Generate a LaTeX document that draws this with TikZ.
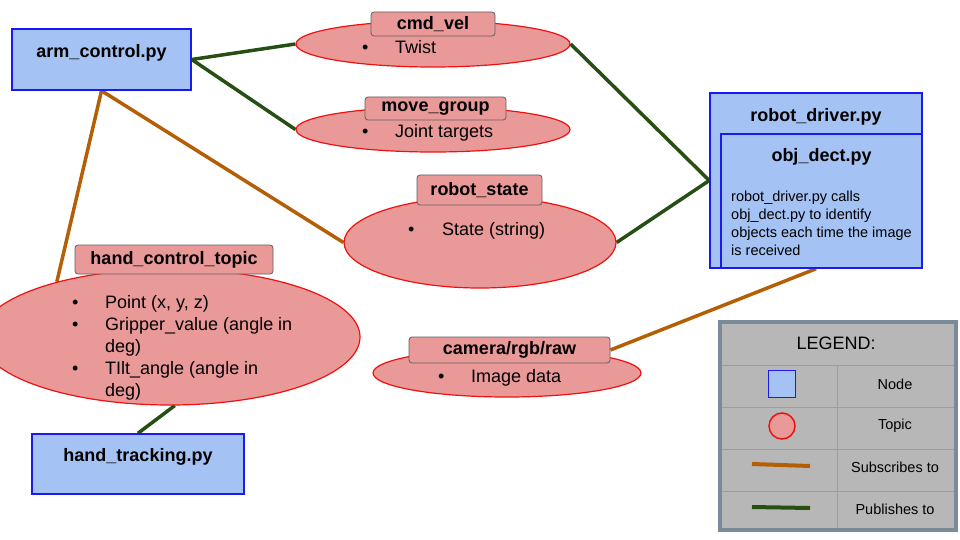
\documentclass[tikz,border=0pt]{standalone}
\usepackage{fontspec}
\setmainfont{Liberation Sans}
\usetikzlibrary{shapes.geometric,backgrounds}

\definecolor{nodeblue}{HTML}{A4C2F4}
\definecolor{nodeborder}{HTML}{1A1AF0}
\definecolor{topicfill}{HTML}{EA9999}
\definecolor{topicborder}{HTML}{F01010}
\definecolor{labelborder}{HTML}{5F5F5F}
\definecolor{suborange}{HTML}{B45F06}
\definecolor{pubgreen}{HTML}{274E13}
\definecolor{legendfill}{HTML}{B7B7B7}
\definecolor{legendframe}{HTML}{7B8A99}
\definecolor{legendgrid}{HTML}{9C9C9C}

\tikzset{
  rosnode/.style={rectangle,draw=nodeborder,fill=nodeblue,line width=1.5pt,inner sep=0pt,font=\fontsize{18}{22}\selectfont\bfseries},
  topic/.style={ellipse,draw=topicborder,fill=topicfill,line width=1.2pt,inner sep=0pt},
  topiclabel/.style={rectangle,draw=labelborder,fill=topicfill,rounded corners=3pt,line width=0.8pt,inner sep=0pt,font=\fontsize{18}{22}\selectfont\bfseries},
  bodytext/.style={inner sep=0pt,anchor=base west,font=\fontsize{18}{22}\selectfont},
  subline/.style={draw=suborange,line width=3.5pt},
  publine/.style={draw=pubgreen,line width=3.5pt}
}

\begin{document}
\begin{tikzpicture}[x=1pt,y=-1pt]
\useasboundingbox (0,0) rectangle (960,540);

% nodes
\node[rosnode,minimum width=179pt,text height=29pt,text depth=32pt] (arm) at (101.5,59.5) {arm\_control.py};
\node[rosnode,minimum width=212pt,text height=29pt,text depth=146pt] (driver) at (816,180.5) {robot\_driver.py};
\node[rosnode,minimum width=201pt,text height=27pt,text depth=107pt] (objdect) at (821.5,201) {obj\_dect.py};
\node[inner sep=0pt,anchor=base west,font=\fontsize{14.5}{18}\selectfont] (drivertxt) at (731,201)
  {\begin{tabular}[t]{@{}l@{}}robot\_driver.py calls\\obj\_dect.py to identify\\objects each time the image\\is received\end{tabular}};
\node[rosnode,minimum width=212pt,text height=27pt,text depth=33pt] (handtrack) at (138,464) {hand\_tracking.py};

% topics
\node[topic,minimum width=274pt,minimum height=46pt] (cmdvel) at (433,44) {};
\node[topiclabel,minimum width=124pt,minimum height=24pt] (cmdvellbl) at (433,24) {cmd\_vel};
\node[bodytext] (cmdveltxt) at (362,54) {\begin{tabular}[t]{@{}p{33pt}@{}l@{}}\textbullet & Twist\end{tabular}};

\node[topic,minimum width=274pt,minimum height=45pt] (movegroup) at (433,129.5) {};
\node[topiclabel,minimum width=141pt,minimum height=23pt] (movegrouplbl) at (435.5,108.5) {move\_group};
\node[bodytext] (movegrouptxt) at (362,138) {\begin{tabular}[t]{@{}p{33pt}@{}l@{}}\textbullet & Joint targets\end{tabular}};

\node[topic,minimum width=272pt,minimum height=91pt] (robotstate) at (480,242.5) {};
\node[topiclabel,minimum width=125pt,minimum height=30pt] (robotstatelbl) at (479.5,190) {robot\_state};
\node[bodytext] (robotstatetxt) at (408,235) {\begin{tabular}[t]{@{}p{34pt}@{}l@{}}\textbullet & State (string)\end{tabular}};

\node[topic,minimum width=380pt,minimum height=136pt] (handtopic) at (170,337) {};
\node[topiclabel,minimum width=198pt,minimum height=29pt] (handtopiclbl) at (174,259.5) {hand\_control\_topic};
\node[bodytext] (handtopictxt) at (72,308) {\begin{tabular}[t]{@{}p{33pt}@{}l@{}}
  \textbullet & Point (x, y, z)\\
  \textbullet & Gripper\_value (angle in\\
   & deg)\\
  \textbullet & TIlt\_angle (angle in\\
   & deg)\end{tabular}};

\node[topic,minimum width=268pt,minimum height=48pt] (camera) at (507,373) {};
\node[topiclabel,minimum width=201pt,minimum height=26pt] (cameralbl) at (509.5,350) {camera/rgb/raw};
\node[bodytext] (cameratxt) at (438,382) {\begin{tabular}[t]{@{}p{33pt}@{}l@{}}\textbullet & Image data\end{tabular}};

% connectors
\begin{pgfonlayer}{background}
\draw[publine] (arm.east) -- (cmdvel.west);
\draw[publine] (arm.east) -- (movegroup.west);
\draw[subline] (arm.south) -- (robotstate.west);
\draw[subline] (arm.south) -- (handtopic.154);
\draw[publine] (handtopic.-86) -- (handtrack.north);
\draw[publine] (cmdvel.east) -- (driver.west);
\draw[publine] (robotstate.east) -- (driver.west);
\draw[subline] (cameralbl.east) -- (driver.south);
\end{pgfonlayer}

% legend
\draw[fill=legendfill,draw=legendframe,line width=3.5pt] (720,322) rectangle (956,530);
\foreach \y in {365,407,449,491}
  \draw[legendgrid,line width=0.8pt] (722,\y) -- (954,\y);
\draw[legendgrid,line width=0.8pt] (837,365) -- (837,528);
\node[font=\fontsize{18}{22}\selectfont] (legtitle) at (836,343) {LEGEND:};
\node[rectangle,draw=nodeborder,fill=nodeblue,line width=1.5pt,minimum size=27pt,inner sep=0pt] (legnode) at (782,384) {};
\node[circle,draw=topicborder,fill=topicfill,line width=1.5pt,minimum size=26pt,inner sep=0pt] (legtopic) at (782,426) {};
\coordinate (legsubA) at (752,464);
\coordinate (legsubB) at (810,466);
\coordinate (legpubA) at (752,507);
\coordinate (legpubB) at (810,508);
\draw[subline,line width=4pt] (legsubA) -- (legsubB);
\draw[publine,line width=4pt] (legpubA) -- (legpubB);
\node[font=\fontsize{14.5}{18}\selectfont] (legnodetxt) at (895,384) {Node};
\node[font=\fontsize{14.5}{18}\selectfont] (legtopictxt) at (895,426) {Topic};
\node[font=\fontsize{14.5}{18}\selectfont] (legsubtxt) at (895,467) {Subscribes to};
\node[font=\fontsize{14.5}{18}\selectfont] (legpubtxt) at (895,509) {Publishes to};
\end{tikzpicture}
\end{document}
